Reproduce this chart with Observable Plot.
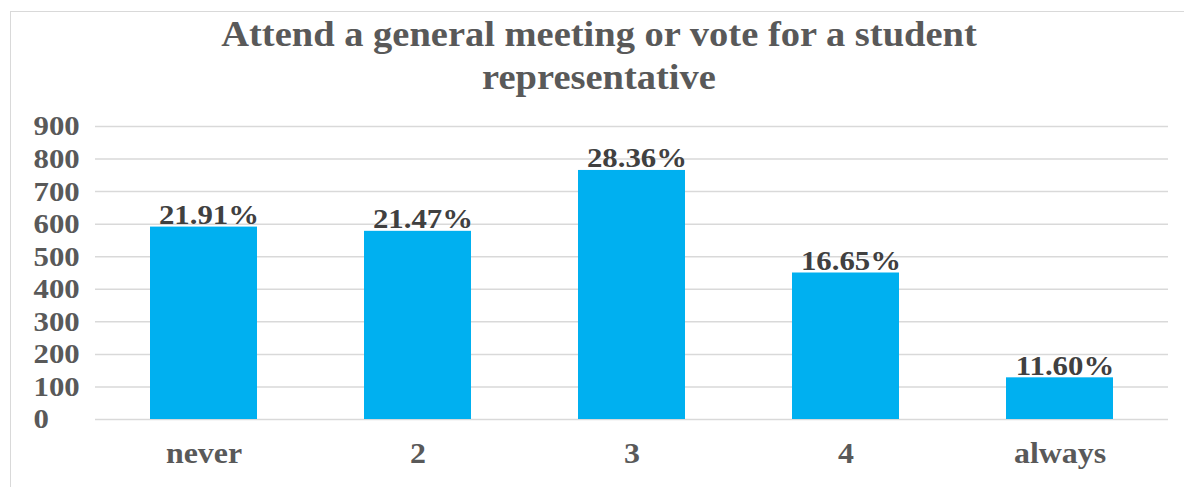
<!DOCTYPE html>
<html>
<head>
<meta charset="utf-8">
<script src="https://cdn.jsdelivr.net/npm/d3@7"></script>
<script src="https://cdn.jsdelivr.net/npm/@observablehq/plot@0.6"></script>
<style>
  html, body { margin: 0; padding: 0; background: #fff; width: 1184px; height: 487px; overflow: hidden; }
  #frame { position: absolute; left: 10px; top: 11px; width: 1190px; height: 490px; border: 1.5px solid #d9d9d9; box-sizing: border-box; }
  #title { position: absolute; left: 0; top: 13px; width: 1198px; text-align: center; font-family: "Liberation Serif", "Times New Roman", serif; font-weight: bold; font-size: 35px; line-height: 43px; color: #595959; transform: scaleX(1.1); transform-origin: 599px 0; }
  #chart { position: absolute; left: 0; top: 100px; }
</style>
</head>
<body>
<div id="frame"></div>
<div id="title">Attend a general meeting or vote for a student<br>representative</div>
<div id="chart"></div>
<script>
const categories = ["never", "2", "3", "4", "always"];
const counts = [591, 578, 765, 450, 128];
const percentLabels = ["21.91%", "21.47%", "28.36%", "16.65%", "11.60%"];
const yTicks = [0, 100, 200, 300, 400, 500, 600, 700, 800, 900];

const data = categories.map((c, i) => ({category: c, value: counts[i], label: percentLabels[i]}));

const chart = Plot.plot({
  width: 1184,
  height: 380,
  marginLeft: 95,
  marginRight: 16,
  marginTop: 26,
  marginBottom: 61,
  style: {fontFamily: "'Liberation Serif', 'Times New Roman', serif", fontWeight: "bold", background: "transparent"},
  x: {domain: categories, paddingInner: 0.5, paddingOuter: 0.25, label: null},
  y: {domain: [0, 900], ticks: yTicks, label: null},
  marks: [
    Plot.gridY(yTicks, {stroke: "#d9d9d9", strokeOpacity: 1, strokeWidth: 1.5}),
    Plot.barY(data, {x: "category", y: "value", fill: "#00b0f0"}),
    Plot.text(data, {x: "category", y: "value", text: "label", lineAnchor: "bottom", dy: -3, dx: 5, fontSize: 28, fill: "#404040", fontWeight: "bold"}),
    Plot.axisY(yTicks, {tickSize: 0, tickPadding: 62, textAnchor: "start", fontSize: 28, fill: "#595959", fontWeight: "bold", label: null}),
    Plot.axisX({tickSize: 0, tickPadding: 23, fontSize: 29, fill: "#595959", fontWeight: "bold", label: null})
  ]
});
// widen glyphs horizontally to match the stretched serif lettering
const sx = 1.1;
chart.querySelectorAll("text").forEach(el => {
  const x = el.getAttribute("x");
  if (x != null && x !== "") el.setAttribute("x", +x / sx);
  const t = el.getAttribute("transform") || "";
  el.setAttribute("transform", (t + ` scale(${sx},1)`).trim());
});
document.getElementById("chart").appendChild(chart);
</script>
</body>
</html>
